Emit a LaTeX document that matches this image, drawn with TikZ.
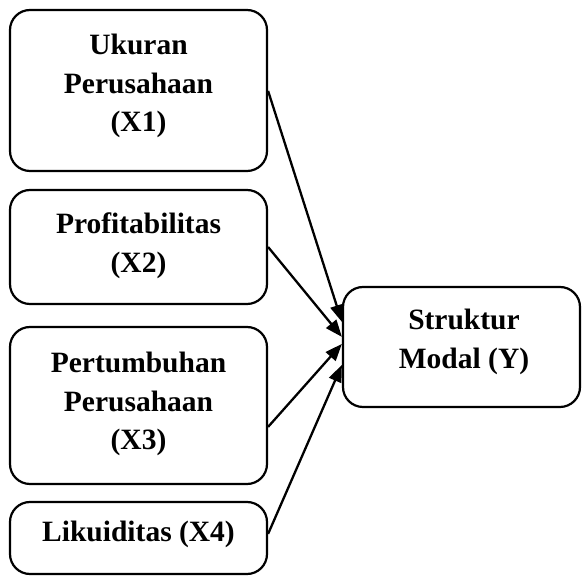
\documentclass[tikz,border=0pt]{standalone}
\usepackage{fontspec}
\setmainfont{Liberation Serif}
\usetikzlibrary{arrows.meta}
\begin{document}
\begin{tikzpicture}[x=1pt,y=1pt,
  box/.style={draw=black,line width=2.2pt,rounded corners=20pt,inner sep=0pt},
  lbl/.style={align=center,font=\bfseries\fontsize{29.5}{38.5}\selectfont,inner sep=0pt},
  conn/.style={line width=2.3pt,-{Triangle[length=17pt,width=13pt]}}]
\useasboundingbox (0,0) rectangle (582,576);
% boxes (y measured from top: y_tikz = 576 - y_px)
\node[box,minimum width=257pt,minimum height=161pt] (b1) at (138.5,485.5) {};
\node[box,minimum width=257pt,minimum height=114pt] (b2) at (138.5,329) {};
\node[box,minimum width=257pt,minimum height=157pt] (b3) at (138.5,170.5) {};
\node[box,minimum width=257pt,minimum height=72pt] (b4) at (138.5,38) {};
\node[box,minimum width=237pt,minimum height=120pt] (by) at (461.5,229) {};
% labels
\node[lbl] (t1) at (138.5,490) {Ukuran\\Perusahaan\\(X1)};
\node[lbl] (t2) at (138.5,330) {Profitabilitas\\(X2)};
\node[lbl] (t3) at (138.5,172) {Pertumbuhan\\Perusahaan\\(X3)};
\node[lbl] (t4) at (138.5,42) {Likuiditas (X4)};
\node[lbl] (ty) at (464,234) {Struktur\\Modal (Y)};
% connectors
\coordinate (e1) at ([yshift=-36pt]by.north west);
\coordinate (e2) at ([yshift=-51pt]by.north west);
\coordinate (e3) at ([yshift=-58pt]by.north west);
\coordinate (e4) at ([yshift=-79pt]by.north west);
\draw[conn] ([yshift=-82pt]b1.north east) -- (e1);
\draw[conn] (b2.east) -- (e2);
\draw[conn] ([yshift=-101pt]b3.north east) -- (e3);
\draw[conn] ([yshift=-33pt]b4.north east) -- (e4);
\end{tikzpicture}
\end{document}
